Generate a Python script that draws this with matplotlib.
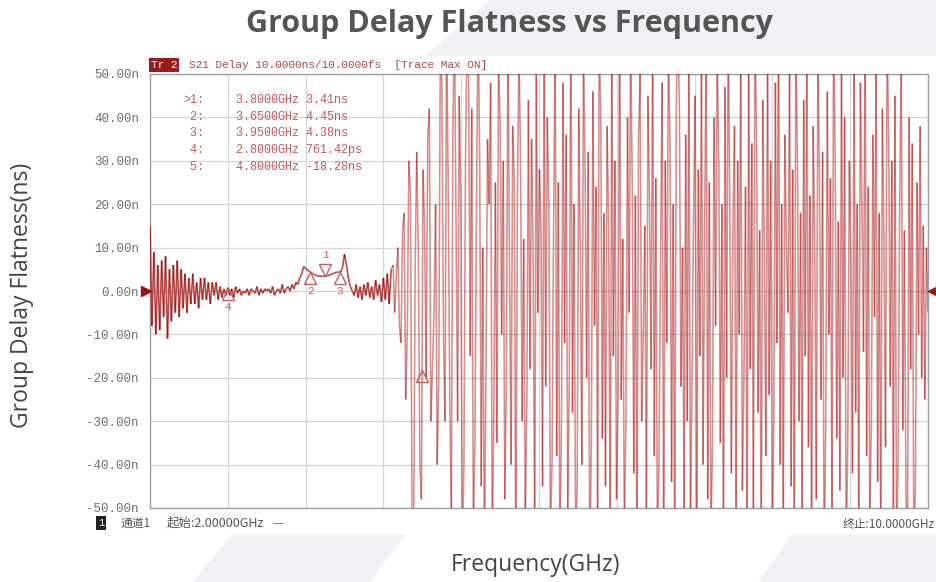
import numpy as np
import matplotlib.pyplot as plt
from matplotlib.collections import LineCollection
from matplotlib.patches import Polygon
import matplotlib.transforms as mtransforms

# S21 group delay trace (ns)
# quiet part: 2.00-4.48 GHz, noisy part: 4.50-10.00 GHz
delay_quiet = [15, -8, 9, -10, 6, -9, 7, -6, 8, -11, 5, -7, 6, -5, 7, -6,
               5, -4, 4, -5, 3, -3, 4, -3, 2, -4, 3, -2, 3, -2, 2, -3, 2, -1, 2, -2,
               1, -1.5, 0.5, -1, 0.76, -1, 0.5, -1.5, 1, -0.5, 0.5, -1, 0, -0.5, 0.5,
               -1, 0.5, 0, -0.5, 1, -1, 0.5, -0.5, 0.5, 0,
               0.5, -0.5, 1, -1, 0, 0.5, -0.5, 1.5, -0.5, 0.5, 1, 0, 1.5, 0.5, 2, 1.5, 3, 4,
               5.6, 5.2, 4.8, 4.5, 4.2, 3.9, 3.7, 3.5, 3.45, 3.41, 3.4, 3.41,
               3.5, 3.6, 3.8, 4.0, 4.2, 4.3, 4.35, 4.38,
               5.5, 8.5, 6, 3, 1, 0,
               -1, 1.5, -1.5, 1, -2, 1.5, -1, 2, -1.5, 1, -2, 2.5, -1, 1.5, -2.5, 3, -2, 4, -3, 5]
delay_noisy = [6, -5, 3, 10, -8, -12, 14, 18, -25, -10, 30, 22, -50, -58, 5, 32, 10, -40, -48, 28,
               15, -20, 35, 42, -30, -18, -5, 20, -40, -20, 55, 48, -10, -30, 60, 25, -25, -50, 38, 62,
               15, -30, 45, 20, -60, -40, 30, 58, 50, -15, 42, -55, -35, 20, 65, 30, -45, 10, -62, -20,
               35, 20, 48, -58, -30, 25, -35, 52, 40, -10, 30, -48, -20, 60, 5, -40, 38, 25, -65, 22,
               55, 30, -30, 12, -52, -25, 44, -18, 35, 10, -60, 50, -5, 28, 15, -45, 62, -22, 40, 20,
               -55, -40, 15, 58, -38, 25, -62, -30, 48, -12, 36, -50, -20, 66, -28, 20, -58, -45, 42, 8,
               -40, 55, 30, -20, 32, -64, -35, 46, -8, 24, -52, 60, 40, -34, 18, -45, 38, 15, -60, 52,
               -15, 30, -48, -25, 64, -25, 12, -56, -30, 40, -5, 57, 25, -42, 22, -62, 35, 50, -30, -10,
               15, -54, 45, 20, -18, 62, -38, 26, -58, -40, 8, 48, -65, 30, -12, 55, 35, -44, 20, -60,
               42, 65, 40, -22, 10, -50, 36, -30, 58, -55, -20, 18, 45, -62, 28, -15, 52, -40, 12, 60,
               -48, 25, -58, -35, 40, -8, 54, 30, -35, 20, -62, 47, -20, 64, 20, -42, 15, 38, -56, 30,
               -10, 58, -46, -20, 24, -64, 50, -18, 34, -52, 62, 35, -28, 14, -60, 44, 6, -38, 56, -24,
               30, -58, -30, 48, -12, 66, -40, 20, -55, 36, 10, -5, 52, -45, 28, -62, 60, 30, -30, 18,
               -50, 44, -15, 62, -36, 22, -58, 38, 10, -48, 55, 25, -25, 32, -64, -30, 46, -10, 26, -54,
               64, 30, -34, 16, -46, 52, -20, 40, -60, -35, 30, 8, -42, 58, -28, 20, -56, 48, 20, -14,
               62, -38, 24, -52, -30, 36, -6, 54, -44, 18, -62, 42, 12, -36, 60, 35, -22, 30, -50, 45,
               -58, -40, 20, 56, -32, 14, -48, -55, 40, -18, 34, -60, -45, 25, -10, 38, -20, 15, -25, 10, -5]
freq_quiet = np.linspace(2.0, 4.48, len(delay_quiet))
freq_noisy = np.linspace(4.50, 10.0, len(delay_noisy))

marker_ids = ['1', '2', '3', '4', '5']
marker_freq = [3.80, 3.65, 3.95, 2.80, 4.80]
marker_val = [3.41, 4.45, 4.38, 0.76142, -18.28]
marker_text = ['3.8000GHz 3.41ns', '3.6500GHz 4.45ns', '3.9500GHz 4.38ns',
               '2.8000GHz 761.42ps', '4.8000GHz -18.28ns']

yticks = [50, 40, 30, 20, 10, 0, -10, -20, -30, -40, -50]
ytick_labels = ['50.00n', '40.00n', '30.00n', '20.00n', '10.00n', '0.00n',
                '-10.00n', '-20.00n', '-30.00n', '-40.00n', '-50.00n']
xgrid = [2.0, 2.8, 3.6, 4.4, 5.2, 6.0, 6.8, 7.6, 8.4, 9.2, 10.0]

W, H = 937, 582
fig = plt.figure(figsize=(W / 100, H / 100), dpi=100)


def px(x, y):
    return x / W, 1 - y / H


# faint slide background shapes
bg = [[(490, 0), (937, 0), (937, 56), (425, 56)],
      [(232, 535), (405, 535), (370, 582), (192, 582)],
      [(792, 535), (937, 535), (937, 582), (758, 582)]]
for pts in bg:
    fig.patches.append(Polygon([px(*p) for p in pts], closed=True, transform=fig.transFigure,
                               facecolor='#f0f1f5', edgecolor='none', zorder=0))

ax = fig.add_axes([150 / W, 1 - 508 / H, 778 / W, 434 / H])
ax.set_xlim(2, 10)
ax.set_ylim(-50, 50)
ax.set_xticks(xgrid)
ax.set_yticks(yticks)
ax.set_yticklabels(ytick_labels, family='Liberation Mono', fontsize=9, color='#707070')
ax.tick_params(length=0, labelbottom=False, pad=8)
ax.grid(color='#d6d6d6', lw=0.9)
ax.set_axisbelow(True)
for s in ax.spines.values():
    s.set_color('#a0a0a0')
    s.set_linewidth(1)


def trace_segments(f, d):
    p = np.column_stack([f, d])
    return np.stack([p[:-1], p[1:]], axis=1)


# quiet part is drawn darker, the noisy part lighter so overlaps show dark
ax.add_collection(LineCollection(trace_segments(freq_quiet, delay_quiet),
                                 colors=[(0.6, 0.0, 0.0, 0.7)], linewidths=1.2, zorder=3))
ax.add_collection(LineCollection(trace_segments(np.r_[freq_quiet[-1], freq_noisy],
                                                [delay_quiet[-1]] + delay_noisy),
                                 colors=[(0.65, 0.02, 0.02, 0.45)], linewidths=1.15, zorder=3))

mk_col = '#c06262'
for mid, f, v in zip(marker_ids, marker_freq, marker_val):
    if mid == '1':
        tr = mtransforms.offset_copy(ax.transData, fig=fig, y=6, units='dots')
        ax.plot(f, v, marker='v', ms=9, mfc='white', mec=mk_col, mew=1, transform=tr, zorder=5)
        ax.annotate(mid, (f, v), xytext=(0, 15), textcoords='offset points', ha='center',
                    va='center', fontsize=8, color=mk_col, family='Liberation Mono', zorder=5)
    else:
        tr = mtransforms.offset_copy(ax.transData, fig=fig, y=-6, units='dots')
        ax.plot(f, v, marker='^', ms=9, mfc='none', mec=mk_col, mew=1, transform=tr, zorder=5)
        if mid != '5':
            ax.annotate(mid, (f, v), xytext=(0, -14), textcoords='offset points', ha='center',
                        va='center', fontsize=8, color=mk_col, family='Liberation Mono', zorder=5)

# reference level arrows
tr_l = mtransforms.offset_copy(ax.transData, fig=fig, x=-4, units='dots')
ax.plot(2, 0, marker='>', ms=7, color='#9b1010', transform=tr_l, clip_on=False, zorder=6)
tr_r = mtransforms.offset_copy(ax.transData, fig=fig, x=5, units='dots')
ax.plot(10, 0, marker='<', ms=7, color='#9b1010', transform=tr_r, clip_on=False, zorder=6)

# marker table
for k, (mid, txt) in enumerate(zip(marker_ids, marker_text)):
    y = 100 + k * 16.7
    lab = ('>' if k == 0 else ' ') + mid + ':'
    fig.text(*px(183, y), lab, family='Liberation Mono', fontsize=8.5, color='#c25a5a', va='center')
    fig.text(*px(236, y), txt, family='Liberation Mono', fontsize=8.5, color='#c25a5a', va='center')

# VNA header and footer
fig.text(*px(151, 65), 'Tr 2', family='Liberation Mono', fontsize=8, color='white', va='center',
         bbox=dict(boxstyle='square,pad=0.15', fc='#9b1b1b', ec='none'))
fig.text(*px(189, 65), 'S21 Delay 10.0000ns/10.0000fs  [Trace Max ON]', family='Liberation Mono',
         fontsize=8, color='#a84848', va='center')
fig.text(*px(98, 523), '1', family='Liberation Mono', fontsize=7.5, color='white', va='center',
         bbox=dict(boxstyle='square,pad=0.2', fc='#222222', ec='none'))
fig.text(*px(121, 523), '通道1', family=['Noto Sans CJK SC', 'DejaVu Sans'], fontsize=8.5,
         color='#555555', va='center')
fig.text(*px(167, 523), '起始:2.00000GHz', family=['Noto Sans CJK SC', 'DejaVu Sans'], fontsize=9,
         color='#555555', va='center')
fig.text(*px(272, 523), '—', family='DejaVu Sans', fontsize=8, color='#c04040', va='center')
fig.text(*px(935, 524), '终止:10.0000GHz', family=['Noto Sans CJK SC', 'DejaVu Sans'], fontsize=8.5,
         color='#555555', va='center', ha='right')

# slide titles
fig.text(*px(509, 24), 'Group Delay Flatness vs Frequency', family='Open Sans', weight='bold',
         fontsize=22, color='#555555', ha='center', va='center')
fig.text(*px(22, 295), 'Group Delay Flatness(ns)', family='Open Sans', fontsize=16.5,
         color='#444444', ha='center', va='center', rotation=90)
fig.text(*px(536, 565), 'Frequency(GHz)', family='Open Sans', fontsize=16.5,
         color='#444444', ha='center', va='center')

fig.savefig('out.png', dpi=100)
